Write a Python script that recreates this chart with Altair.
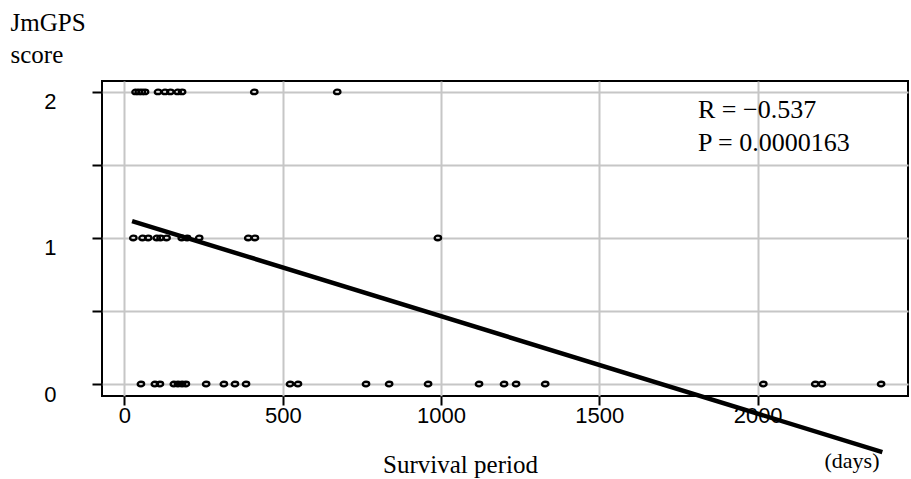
import altair as alt
import pandas as pd

# Scatter data (survival days, JmGPS score)
days_score2 = [35, 45, 55, 65, 106, 128, 145, 168, 182, 410, 672]
days_score1 = [28, 57, 75, 102, 114, 133, 181, 198, 236, 391, 412, 990]
days_score0 = [52, 96, 112, 156, 169, 182, 194, 258, 314, 349, 384, 523, 548,
               763, 836, 959, 1120, 1199, 1237, 1329, 2018, 2182, 2203, 2390]

# Regression line end points (days, fitted score)
line_days = [24, 2394]
line_scores = [1.116, -0.466]

x_ticks = [0, 500, 1000, 1500, 2000]
y_ticks = [0, 0.5, 1, 1.5, 2]

pts = pd.DataFrame({
    "days": days_score2 + days_score1 + days_score0,
    "score": [2] * len(days_score2) + [1] * len(days_score1) + [0] * len(days_score0),
})
fit = pd.DataFrame({"days": line_days, "score": line_scores})

SANS = "Liberation Sans"
SERIF = "Liberation Serif"
GRID = "#c6c6c6"

x_scale = alt.Scale(domain=[-71, 2475], nice=False, zero=False)
y_scale = alt.Scale(domain=[-0.082, 2.075], nice=False, zero=False)

x_enc = alt.X(
    "days:Q", scale=x_scale,
    axis=alt.Axis(
        values=x_ticks, format="d", grid=True, gridColor=GRID, gridWidth=2, domain=False,
        tickColor="black", tickWidth=2, tickSize=9,
        labelFont=SANS, labelFontSize=22, labelColor="black", labelPadding=0,
        title="Survival period", titleFont=SERIF, titleFontSize=25,
        titleFontWeight="normal", titleColor="black",
        titleX=358, titleY=76, titleBaseline="alphabetic", titleAlign="center",
    ),
)
y_enc = alt.Y(
    "score:Q", scale=y_scale,
    axis=alt.Axis(
        values=y_ticks, grid=True, gridColor=GRID, gridWidth=2, domain=False,
        tickColor="black", tickWidth=2, tickSize=10,
        labelExpr="datum.value % 1 == 0 ? '' + datum.value : ''",
        labelFont=SANS, labelFontSize=22, labelColor="black",
        labelPadding=36, labelOffset=10,
        title=["JmGPS", "score"], titleFont=SERIF, titleFontSize=25,
        titleFontWeight="normal", titleColor="black", titleAngle=0,
        titleAlign="left", titleBaseline="alphabetic",
        titleX=-92, titleY=-51, titleLineHeight=32,
    ),
)

ellipse = "M -1 0 A 1 0.7 0 1 0 1 0 A 1 0.7 0 1 0 -1 0 Z"

points = alt.Chart(pts).mark_point(
    shape=ellipse, filled=False, color="black", strokeWidth=2.3, size=42, opacity=1
).encode(x=x_enc, y=y_enc)

line = alt.Chart(fit).mark_line(color="black", strokeWidth=4.5, clip=False).encode(
    x=alt.X("days:Q", scale=x_scale), y=alt.Y("score:Q", scale=y_scale)
)

r_text = alt.Chart(pd.DataFrame({"t": ["R = \u22120.537"]})).mark_text(
    font=SERIF, fontSize=26, align="left", baseline="alphabetic", color="black"
).encode(x=alt.value(596), y=alt.value(37), text="t:N")

p_text = alt.Chart(pd.DataFrame({"t": ["P = 0.0000163"]})).mark_text(
    font=SERIF, fontSize=26, align="left", baseline="alphabetic", color="black"
).encode(x=alt.value(596), y=alt.value(70), text="t:N")

days_text = alt.Chart(pd.DataFrame({"t": ["(days)"]})).mark_text(
    font=SERIF, fontSize=22, align="center", baseline="alphabetic", color="black"
).encode(x=alt.value(750), y=alt.value(387), text="t:N")

chart = alt.layer(points, line, r_text, p_text, days_text).properties(
    width=806, height=315,
    autosize=alt.AutoSizeParams(type="none"),
    padding={"left": 102, "top": 81, "right": 3, "bottom": 83},
    background="white",
).configure_view(stroke="black", strokeWidth=2)

chart.save("out.html", embed_options={"renderer": "svg", "actions": False})
